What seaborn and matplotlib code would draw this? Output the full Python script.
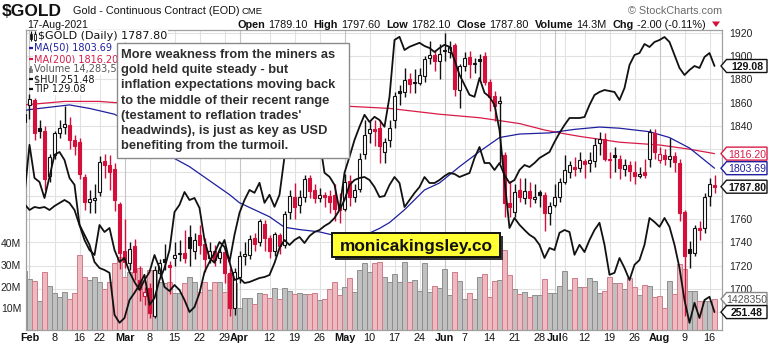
import numpy as np
import pandas as pd
import matplotlib
matplotlib.use("Agg")
import matplotlib.pyplot as plt
from matplotlib.patches import Rectangle, Polygon
from matplotlib.lines import Line2D
from matplotlib.transforms import blended_transform_factory
import seaborn as sns

# ---------------- data ----------------
first_day, last_day = "2021-01-29", "2021-08-17"
market_holidays = ["2021-02-15", "2021-04-02", "2021-05-31", "2021-07-05"]
jan28_close = 1842.0

opens = [1843, 1858, 1862, 1838, 1836, 1797, 1815, 1834, 1839, 1841,
         1828, 1826, 1796, 1775, 1776, 1783, 1810, 1806, 1803, 1773,
         1733, 1722, 1737, 1708, 1694, 1701, 1677, 1714, 1726, 1721,
         1727, 1730, 1731, 1745, 1733, 1746, 1739, 1727, 1733, 1727,
         1732, 1714, 1684, 1710, 1728, 1729, 1744, 1740, 1756, 1744,
         1733, 1746, 1738, 1766, 1779, 1772, 1779, 1795, 1785, 1778,
         1781, 1780, 1781, 1770, 1769, 1793, 1779, 1786, 1816, 1834,
         1837, 1838, 1818, 1828, 1845, 1870, 1869, 1880, 1878, 1877,
         1883, 1898, 1901, 1896, 1904, 1903, 1909, 1871, 1891, 1899,
         1893, 1897, 1900, 1878, 1866, 1860, 1815, 1774, 1766, 1785,
         1778, 1784, 1777, 1783, 1781, 1765, 1772, 1779, 1792, 1800,
         1805, 1804, 1810, 1808, 1810, 1825, 1829, 1812, 1815, 1812,
         1803, 1806, 1800, 1797, 1800, 1812, 1834, 1811, 1815, 1812,
         1814, 1808, 1766, 1734, 1731, 1752, 1752, 1780, 1789.1]
highs = [1860, 1867, 1864, 1845, 1840, 1816, 1836, 1845, 1857, 1848,
         1832, 1830, 1799, 1785, 1790, 1814, 1816, 1815, 1808, 1775,
         1760, 1740, 1743, 1720, 1702, 1705, 1720, 1726, 1739, 1724,
         1740, 1742, 1751, 1755, 1748, 1755, 1744, 1740, 1738, 1736,
         1735, 1718, 1718, 1733, 1740, 1746, 1748, 1760, 1759, 1746,
         1749, 1748, 1767, 1785, 1791, 1785, 1798, 1798, 1790, 1787,
         1783, 1785, 1790, 1782, 1799, 1798, 1790, 1817, 1845, 1845,
         1845, 1845, 1830, 1845, 1869, 1875, 1890, 1885, 1889, 1890,
         1900, 1913, 1905, 1910, 1920, 1913, 1911, 1893, 1903, 1904,
         1898, 1902, 1903, 1880, 1870, 1866, 1818, 1793, 1790, 1795,
         1795, 1792, 1790, 1785, 1783, 1775, 1790, 1795, 1815, 1810,
         1813, 1818, 1812, 1818, 1830, 1835, 1834, 1818, 1822, 1815,
         1812, 1810, 1810, 1805, 1812, 1837, 1837, 1822, 1820, 1830,
         1818, 1812, 1768, 1741, 1755, 1758, 1782, 1795, 1797.6]
lows = [1838, 1846, 1828, 1830, 1785, 1792, 1812, 1830, 1833, 1820,
        1815, 1794, 1768, 1765, 1765, 1780, 1795, 1785, 1767, 1717,
        1718, 1716, 1708, 1690, 1686, 1675, 1675, 1710, 1716, 1696,
        1720, 1724, 1722, 1720, 1726, 1730, 1715, 1722, 1720, 1722,
        1705, 1677, 1678, 1705, 1721, 1726, 1733, 1737, 1733, 1727,
        1728, 1730, 1735, 1760, 1760, 1765, 1775, 1778, 1774, 1775,
        1770, 1765, 1758, 1757, 1767, 1771, 1775, 1783, 1812, 1825,
        1823, 1808, 1808, 1822, 1838, 1858, 1865, 1868, 1868, 1875,
        1878, 1893, 1887, 1880, 1896, 1898, 1866, 1855, 1887, 1881,
        1885, 1880, 1875, 1853, 1844, 1808, 1762, 1762, 1762, 1775,
        1773, 1770, 1774, 1770, 1750, 1755, 1770, 1775, 1790, 1795,
        1797, 1800, 1795, 1800, 1805, 1815, 1810, 1795, 1800, 1794,
        1797, 1793, 1790, 1795, 1795, 1805, 1812, 1808, 1806, 1805,
        1800, 1758, 1677, 1718, 1728, 1742, 1748, 1771, 1782.1]
closes = [1850, 1863, 1834, 1836, 1794, 1813, 1834, 1838, 1842, 1828,
          1823, 1799, 1775, 1777, 1778, 1809, 1806, 1800, 1776, 1731,
          1723, 1734, 1715, 1700, 1697, 1679, 1716, 1722, 1723, 1719,
          1729, 1731, 1727, 1735, 1742, 1738, 1726, 1733, 1725, 1732,
          1714, 1684, 1715, 1728, 1730, 1743, 1739, 1758, 1744, 1733,
          1747, 1737, 1764, 1780, 1770, 1779, 1794, 1784, 1778, 1781,
          1779, 1775, 1769, 1768, 1792, 1779, 1785, 1812, 1832, 1837,
          1836, 1823, 1826, 1838, 1866, 1868, 1879, 1876, 1877, 1884,
          1897, 1901, 1896, 1902, 1905, 1908, 1872, 1891, 1898, 1893,
          1894, 1896, 1878, 1865, 1857, 1861, 1774, 1770, 1783, 1779,
          1784, 1778, 1779, 1781, 1765, 1771, 1779, 1792, 1802, 1806,
          1803, 1811, 1807, 1811, 1824, 1829, 1812, 1811, 1813, 1804,
          1806, 1801, 1797, 1799, 1798, 1835, 1818, 1816, 1812, 1814,
          1809, 1765, 1728, 1731, 1752, 1751, 1779, 1789.8, 1787.8]
volume_m = [27.0, 23.5, 22.6, 13.4, 26.6, 20.3, 17.0, 15.1, 17.4, 14.3,
            16.9, 34.6, 24.6, 23.0, 24.6, 21.9, 18.7, 22.0, 30.7, 33.8,
            24.6, 26.9, 26.9, 28.4, 22.3, 27.5, 27.6, 22.3, 21.5, 22.3,
            16.9, 16.9, 21.5, 24.6, 22.3, 17.7, 22.3, 18.4, 22.3, 22.3,
            17.7, 26.0, 21.5, 10.0, 14.6, 14.6, 12.0, 16.9, 16.6, 14.6,
            19.2, 14.3, 19.2, 18.0, 16.6, 16.9, 16.6, 16.6, 16.9, 13.8,
            14.3, 18.7, 22.3, 16.1, 19.9, 23.8, 17.7, 27.7, 30.7, 26.9,
            30.7, 31.5, 24.6, 22.3, 25.6, 22.3, 31.5, 22.3, 23.0, 18.1,
            31.0, 17.7, 20.3, 19.2, 27.9, 16.1, 26.6, 22.6, 14.3, 17.2,
            14.3, 24.3, 25.6, 15.1, 22.6, 23.0, 36.9, 25.3, 18.7, 16.6,
            17.7, 15.4, 16.1, 16.1, 23.3, 16.9, 17.2, 20.3, 27.4, 18.4,
            23.8, 19.9, 19.6, 23.8, 22.6, 16.9, 18.0, 24.6, 21.5, 21.5,
            18.7, 23.8, 19.6, 16.1, 20.7, 20.5, 15.1, 15.7, 10.0, 22.6,
            16.6, 30.4, 28.1, 18.0, 18.0, 13.4, 13.4, 13.4, 14.2835]
hui = [280.8, 293.3, 285.0, 284.0, 280.0, 285.3, 290.8, 291.5, 289.5, 285.0,
       283.3, 273.3, 270.8, 268.3, 264.0, 262.5, 262.0, 261.3, 250.8, 248.8,
       250.0, 254.5, 256.3, 258.3, 260.8, 253.3, 255.0, 259.5, 262.5, 267.0,
       276.5, 278.3, 281.5, 279.5, 280.0, 277.5, 269.5, 265.0, 263.8, 267.0,
       269.5, 264.0, 270.8, 276.3, 279.5, 282.0, 281.3, 283.8, 278.8, 280.8,
       277.8, 280.8, 290.3, 298.3, 302.0, 300.8, 303.3, 302.0, 300.0, 294.5,
       286.3, 285.3, 283.3, 277.0, 286.3, 290.3, 294.5, 297.8, 300.8, 299.0,
       300.3, 299.5, 297.8, 305.3, 319.5, 320.3, 317.0, 317.8, 318.3, 318.8,
       318.0, 317.5, 316.5, 317.5, 318.3, 317.8, 314.5, 310.8, 308.3, 305.8,
       305.3, 310.0, 306.3, 305.3, 303.3, 297.0, 284.5, 272.5, 275.0, 273.3,
       272.0, 270.8, 270.0, 268.3, 265.0, 267.5, 267.0, 271.3, 272.0, 271.5,
       265.8, 268.3, 266.5, 269.5, 272.0, 273.8, 268.3, 260.8, 261.3, 265.0,
       262.5, 259.5, 263.3, 264.5, 268.3, 275.0, 274.0, 272.8, 275.0, 272.8,
       268.3, 262.5, 254.5, 248.8, 253.8, 250.0, 254.5, 255.3, 251.48]
tip = [126.32, 126.20, 126.26, 126.24, 126.26, 126.20, 126.28, 126.34, 126.40, 126.34,
       126.20, 125.90, 125.60, 125.40, 125.30, 125.90, 125.76, 125.84, 125.40, 125.16,
       125.24, 124.96, 124.76, 124.60, 124.80, 124.96, 125.30, 125.04, 124.66, 124.58,
       124.70, 124.60, 124.40, 124.16, 124.26, 124.54, 124.96, 125.16, 125.34, 125.56,
       125.46, 125.16, 124.80, 124.84, 124.74, 124.76, 124.80, 124.84, 124.86, 124.90,
       125.14, 125.44, 125.60, 125.50, 125.60, 125.66, 125.54, 125.68, 125.76, 125.80,
       125.88, 125.94, 126.04, 126.20, 126.40, 126.70, 126.80, 126.84, 126.86, 126.80,
       126.66, 126.46, 126.48, 126.70, 126.86, 126.74, 126.26, 126.40, 126.54, 126.66,
       126.86, 126.74, 126.74, 126.80, 126.88, 126.94, 126.92, 126.86, 126.90, 126.94,
       127.24, 127.46, 127.14, 127.14, 127.00, 127.14, 126.90, 126.74, 126.80, 127.00,
       127.10, 127.06, 127.14, 127.24, 127.30, 127.36, 127.56, 127.74, 127.90, 128.04,
       128.04, 128.04, 128.06, 128.30, 128.50, 128.56, 128.60, 128.58, 128.56, 128.40,
       128.64, 129.10, 129.30, 129.34, 129.52, 129.46, 129.56, 129.60, 129.66, 129.56,
       129.30, 129.04, 128.90, 129.00, 129.08, 129.04, 129.26, 129.34, 129.08]

ma50_dates = ["2021-01-29", "2021-02-01", "2021-02-05", "2021-02-11", "2021-02-18", "2021-02-25",
              "2021-03-04", "2021-03-10", "2021-03-15", "2021-03-18", "2021-03-23", "2021-03-30",
              "2021-04-01", "2021-04-08", "2021-04-12", "2021-04-15", "2021-04-20", "2021-04-26",
              "2021-04-29", "2021-05-04", "2021-05-10", "2021-05-12", "2021-05-14", "2021-05-19",
              "2021-05-25", "2021-05-28", "2021-06-04", "2021-06-10", "2021-06-16", "2021-06-22",
              "2021-06-30", "2021-07-08", "2021-07-15", "2021-07-21", "2021-07-29", "2021-08-04",
              "2021-08-10", "2021-08-17"]
ma50 = [1853, 1854, 1856, 1858, 1855, 1850, 1838, 1822, 1812, 1805, 1796, 1781,
        1774, 1766, 1762, 1753, 1751, 1749, 1746, 1745, 1748, 1752, 1757, 1768,
        1785, 1791, 1805, 1818, 1830, 1833, 1834, 1837, 1839, 1838, 1835, 1830,
        1821, 1803.69]
ma200_dates = ["2021-01-29", "2021-02-10", "2021-02-22", "2021-02-25", "2021-03-17", "2021-04-07",
               "2021-04-26", "2021-05-03", "2021-05-14", "2021-05-24", "2021-05-28", "2021-06-10",
               "2021-06-22", "2021-06-29", "2021-07-02", "2021-07-09", "2021-07-21", "2021-08-02",
               "2021-08-10", "2021-08-17"]
ma200 = [1858, 1861, 1861, 1860, 1860, 1859, 1858, 1857, 1855, 1852, 1850, 1847,
         1842, 1836.5, 1834, 1831, 1826, 1823.6, 1820, 1816.2]

tick_dates = ["2021-02-01", "2021-02-08", "2021-02-16", "2021-02-22", "2021-03-01", "2021-03-08",
              "2021-03-15", "2021-03-22", "2021-03-29", "2021-04-01", "2021-04-12", "2021-04-19",
              "2021-04-26", "2021-05-03", "2021-05-10", "2021-05-17", "2021-05-24", "2021-06-01",
              "2021-06-07", "2021-06-14", "2021-06-21", "2021-06-28", "2021-07-01", "2021-07-06",
              "2021-07-12", "2021-07-19", "2021-07-26", "2021-08-02", "2021-08-09", "2021-08-16"]
tick_labels = ["Feb", "8", "16", "22", "Mar", "8", "15", "22", "29", "Apr", "12", "19", "26",
               "May", "10", "17", "24", "Jun", "7", "14", "21", "28", "Jul", "6", "12", "19", "26",
               "Aug", "9", "16"]
grid_prices = [1680, 1700, 1720, 1740, 1760, 1780, 1800, 1820, 1840, 1860, 1880, 1900, 1920]
price_labels = [1700, 1720, 1740, 1760, 1840, 1860, 1880, 1900, 1920]   # others hidden by tags
volume_ticks = [10, 20, 30, 40]

note_lines = ["More weakness from the miners as",
              "gold held quite steady - but",
              "inflation expectations moving back",
              "to the middle of their recent range",
              "(testament to reflation trades'",
              "headwinds), is just as key as USD",
              "benefiting from the turmoil."]

# ---------------- styling ----------------
sns.set_theme(style="white")
plt.rcParams['font.family'] = ['Liberation Sans', 'DejaVu Sans']

RED = '#d4103a'
MA200_C = '#d81c48'
NAVY = '#1f1fa0'

W, H = 770, 346
fx = lambda x: x / W
fy = lambda y: 1 - y / H

fig = plt.figure(figsize=(W / 100, H / 100), dpi=100)
fig.patch.set_facecolor('white')
L, R, T, B = 26, 722, 30, 330
ax_vol = fig.add_axes([L / W, 1 - B / H, (R - L) / W, (B - T) / H])
ax = ax_vol.twinx()
ax_hui = ax_vol.twinx()
ax_tip = ax_vol.twinx()

dates = pd.bdate_range(first_day, last_day, freq='C', holidays=market_holidays)
pos = {d.strftime('%Y-%m-%d'): k for k, d in enumerate(dates)}

df = pd.DataFrame({'x': np.arange(len(dates)), 'open': opens, 'high': highs, 'low': lows,
                   'close': closes, 'vol': volume_m, 'hui': hui, 'tip': tip})
prev = np.r_[jan28_close, df['close'].values[:-1]]
df['down'] = df['close'].values < prev

# ---------------- limits ----------------
XL = (0.3, 139.5)
VOL_LIM = (0, 138.3)
PRICE_LIM = (1664.8, 1922.3)
HUI_LIM = (247.0, 322.0)
TIP_LIM = (123.8, 129.8)
ax_vol.set_ylim(*VOL_LIM)
ax.set_ylim(*PRICE_LIM)
ax_hui.set_ylim(*HUI_LIM)
ax_tip.set_ylim(*TIP_LIM)

# ---------------- grid (beneath everything) ----------------
trans = blended_transform_factory(ax_vol.transAxes, ax.transData)
for p in grid_prices:
    ax_vol.plot([0, 1], [p, p], transform=trans, color='#e2e2e2', lw=0.8, zorder=0)
month_names = {"Feb", "Mar", "Apr", "May", "Jun", "Jul", "Aug"}
for d, lab in zip(tick_dates, tick_labels):
    ax_vol.axvline(pos[d], color='#c6c6c6' if lab in month_names else '#e2e2e2', lw=0.8, zorder=0)

# ---------------- volume bars ----------------
up_df = df[~df['down']]
dn_df = df[df['down']]
sns.barplot(data=up_df, x='x', y='vol', native_scale=True, color='#c0c0c0', edgecolor='#8e8e8e',
            linewidth=0.7, width=0.86, saturation=1, errorbar=None, ax=ax_vol)
sns.barplot(data=dn_df, x='x', y='vol', native_scale=True, color='#ecbac0', edgecolor='#d07c89',
            linewidth=0.7, width=0.86, saturation=1, errorbar=None, ax=ax_vol)

# ---------------- moving averages ----------------
sns.lineplot(x=[pos[d] for d in ma200_dates], y=ma200, ax=ax, color=MA200_C, lw=0.9, zorder=1)
sns.lineplot(x=[pos[d] for d in ma50_dates], y=ma50, ax=ax, color=NAVY, lw=0.9, zorder=1)

# ---------------- candles ----------------
cols = np.where(df['down'], RED, '#111111')
ax.vlines(df['x'], df['low'], df['high'], colors=cols, lw=1.0, zorder=2)
body_bottom = np.minimum(df['open'], df['close'])
body_h = np.maximum(np.abs(df['close'] - df['open']), 0.8)
faces = [c if cl < op else 'white' for c, cl, op in zip(cols, df['close'], df['open'])]
ax.bar(df['x'], body_h, bottom=body_bottom, width=0.64, color=faces, edgecolor=cols,
       linewidth=0.8, zorder=3)

# ---------------- overlay lines ----------------
sns.lineplot(data=df, x='x', y='hui', ax=ax_hui, color='#111111', lw=1.3, errorbar=None)
sns.lineplot(data=df, x='x', y='tip', ax=ax_tip, color='#111111', lw=1.3, errorbar=None)

# ---------------- axes cosmetics ----------------
ax_vol.set_xlim(*XL)
ax_vol.set_ylim(*VOL_LIM)
ax.set_ylim(*PRICE_LIM)
ax_hui.set_ylim(*HUI_LIM)
ax_tip.set_ylim(*TIP_LIM)
for a in (ax_hui, ax_tip):
    a.axis('off')
for a in (ax_vol, ax):
    a.set_xlabel('')
    a.set_ylabel('')
for s in ax_vol.spines.values():
    s.set_color('#a0a0a0')
    s.set_linewidth(0.9)
for s in ax.spines.values():
    s.set_visible(False)

ax_vol.set_xticks([pos[d] for d in tick_dates])
ax_vol.set_xticklabels(tick_labels)
for lbl, t in zip(ax_vol.get_xticklabels(), tick_labels):
    if t in month_names:
        lbl.set_fontweight('bold')
ax_vol.tick_params(axis='x', length=0, pad=2.5, labelsize=7.8, labelcolor='#111')
ax_vol.set_yticks(volume_ticks)
ax_vol.set_yticklabels([f"{v}M" for v in volume_ticks])
ax_vol.tick_params(axis='y', length=0, pad=3.5, labelsize=7.5, labelcolor='#222')
ax.set_yticks(price_labels)
ax.set_yticklabels([str(p) for p in price_labels])
ax.tick_params(axis='y', length=0, pad=5, labelsize=7.5, labelcolor='#222')
ax_vol.grid(False)
ax.grid(False)

# ---------------- header ----------------
fig.text(fx(2), fy(15.5), "$GOLD", fontsize=12.5, fontweight='bold', va='baseline', color='#111')
fig.text(fx(73), fy(14.5), "Gold - Continuous Contract (EOD)", fontsize=7.8, va='baseline', color='#111')
fig.text(fx(241), fy(14.5), "CME", fontsize=6.8, va='baseline', color='#111')
fig.text(fx(27), fy(27.5), "17-Aug-2021", fontsize=7.6, va='baseline', color='#111')
fig.text(fx(722), fy(13.5), "\u00a9 StockCharts.com", fontsize=7.8, va='baseline', ha='right', color='#6a6a6a')

r = fig.canvas.get_renderer()
stats = [("Open", True), (f"{opens[-1]:.2f}", False), ("High", True), (f"{highs[-1]:.2f}", False),
         ("Low", True), (f"{lows[-1]:.2f}", False), ("Close", True), (f"{closes[-1]:.2f}", False),
         ("Volume", True), (f"{volume_m[-1]:.1f}M", False), ("Chg", True),
         (f"{closes[-1] - closes[-2]:.2f} ({(closes[-1] - closes[-2]) / closes[-2] * 100:.2f}%)", False)]
cx = 237
for s, bold in stats:
    t = fig.text(fx(cx), fy(27.5), s, fontsize=7.85, fontweight='bold' if bold else 'normal',
                 va='baseline', color='#111')
    cx += t.get_window_extent(r).width + (3.2 if bold else 6.0)
cx = max(cx - 2, 712)
fig.add_artist(Polygon([(fx(cx), fy(21.5)), (fx(cx + 8), fy(21.5)), (fx(cx + 4), fy(27))],
                       closed=True, transform=fig.transFigure, facecolor=RED, edgecolor='none'))

# ---------------- in-plot legend ----------------
leg_rows = [36, 47.7, 59, 69, 79.3, 89]
bb = dict(facecolor='white', edgecolor='none', pad=0.6)
fig.text(fx(38), fy(leg_rows[0]), f"$GOLD (Daily) {closes[-1]:.2f}", color='#111', bbox=bb,
         fontsize=8.0, family='DejaVu Sans', va='center', zorder=4)
small = dict(fontsize=7.0, family='DejaVu Sans', va='center', zorder=4, bbox=bb)
fig.text(fx(34), fy(leg_rows[1]), f"MA(50) {ma50[-1]:.2f}", color=NAVY, **small)
fig.text(fx(34), fy(leg_rows[2]), f"MA(200) {ma200[-1]:.2f}", color=MA200_C, **small)
fig.text(fx(34), fy(leg_rows[3]), f"Volume {volume_m[-1] * 1e6:,.0f}"[:16], color='#555', **small)
fig.text(fx(34), fy(leg_rows[4]), f"$HUI {hui[-1]:.2f}", color='#111', **small)
fig.text(fx(34), fy(leg_rows[5]), f"TIP {tip[-1]:.2f}", color='#111', **small)


def fig_line(xs, ys, color, lw):
    fig.add_artist(Line2D([fx(x) for x in xs], [fy(y) for y in ys], color=color, lw=lw,
                          transform=fig.transFigure, zorder=4, solid_capstyle='butt'))


# candle icon
fig_line([30.5, 30.5], [31, 41], '#111', 0.8)
fig.add_artist(Rectangle((fx(29.5), fy(39)), 2 / W, 5 / H, transform=fig.transFigure,
                         facecolor='#111', edgecolor='#111', lw=0.5, zorder=4))
fig_line([34.5, 34.5], [31, 41], '#111', 0.8)
fig.add_artist(Rectangle((fx(33.5), fy(39.5)), 2 / W, 5 / H, transform=fig.transFigure,
                         facecolor='white', edgecolor='#111', lw=0.6, zorder=4))
fig_line([29, 33.5], [leg_rows[1]] * 2, NAVY, 1.6)
fig_line([29, 33.5], [leg_rows[2]] * 2, MA200_C, 1.6)
for bx, bh in [(29.5, 5), (31, 7), (32.5, 4)]:
    fig_line([bx, bx], [leg_rows[3] + 3.5, leg_rows[3] + 3.5 - bh], '#666', 1.1)
fig_line([29, 33.5], [leg_rows[4]] * 2, '#111', 1.6)
fig_line([29, 33.5], [leg_rows[5]] * 2, '#111', 1.6)

# ---------------- comment box ----------------
fig.add_artist(Rectangle((fx(117), fy(158)), (349 - 117) / W, (158 - 43) / H, transform=fig.transFigure,
                         facecolor='white', edgecolor='#8a8a8a', lw=1.0, zorder=5))
for j, line in enumerate(note_lines):
    fig.text(fx(121), fy(53.5 + 15.2 * j), line, fontsize=9.3, fontweight='bold', color='#2e2e2e',
             va='center_baseline', ha='left', zorder=6)

# ---------------- site label ----------------
fig.add_artist(Rectangle((fx(334.5), fy(259.5)), (500 - 332) / W, (257 - 233) / H, transform=fig.transFigure,
                         facecolor='#333333', edgecolor='none', zorder=6))
fig.add_artist(Rectangle((fx(332), fy(257)), (500 - 332) / W, (257 - 233) / H, transform=fig.transFigure,
                         facecolor='#ffff33', edgecolor='#111111', lw=1.4, zorder=7))
fig.text(fx(416), fy(245.5), "monicakingsley.co", fontsize=12.4, fontweight='bold', color='#111',
         ha='center', va='center_baseline', zorder=8)


# ---------------- last-value tags ----------------
def tag(axis, value, label, edge, tcolor, bold):
    yd = axis.transData.transform((0, value))[1]
    yt = H - yd
    pts = [(721, yt), (726.5, yt - 6.5), (767, yt - 6.5), (767, yt + 6.5), (726.5, yt + 6.5)]
    fig.add_artist(Polygon([(fx(x), fy(y)) for x, y in pts], closed=True, transform=fig.transFigure,
                           facecolor='white', edgecolor=edge, lw=1.0, zorder=10))
    fig.text(fx(747), fy(yt), label, ha='center', va='center_baseline', fontsize=7.6, color=tcolor,
             fontweight='bold' if bold else 'normal', zorder=11)


tag(ax_tip, tip[-1], f"{tip[-1]:.2f}", '#111', '#111', True)
tag(ax, ma200[-1], f"{ma200[-1]:.2f}", MA200_C, MA200_C, False)
tag(ax, ma50[-1], f"{ma50[-1]:.2f}", NAVY, NAVY, False)
tag(ax, closes[-1], f"{closes[-1]:.2f}", '#111', '#111', True)
tag(ax_vol, volume_m[-1], f"{volume_m[-1] * 1e5:.0f}", '#888', '#555', False)
tag(ax_hui, hui[-1], f"{hui[-1]:.2f}", '#111', '#111', True)

fig.savefig("out.png", dpi=100, facecolor='white')
